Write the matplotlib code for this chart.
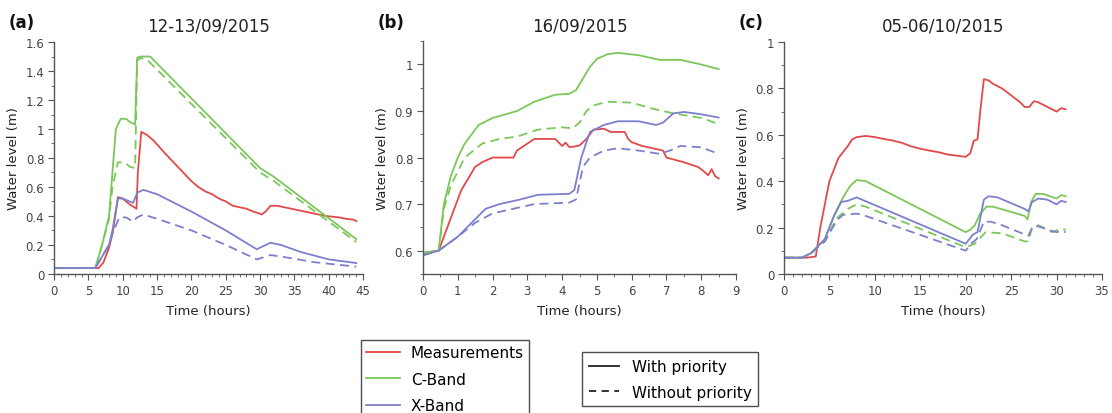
# coding: utf-8
import matplotlib.pyplot as plt
from matplotlib.ticker import MultipleLocator, FuncFormatter
from matplotlib.lines import Line2D

plt.rcParams['font.family'] = ['DejaVu Sans']

RED = '#e2494b'
GREEN = '#7cc75a'
BLUE = '#7c80cc'

# ---- (a) 12-13/09/2015
a_meas_t = [0, 6.5, 7.2, 8.0, 8.6, 9.3, 10.0, 11.0, 12.0, 12.2, 12.7, 13.5, 14.5, 16, 17, 18, 19, 20, 21, 22, 23, 24, 25, 26, 27, 28, 29, 29.7, 30.2, 30.8, 31.5, 32.5, 33.5, 34.5, 35.5, 36.5, 37.5, 38.5, 39.5, 40.5, 41.5, 42.5, 43.5, 44]
a_meas_v = [0.04, 0.04, 0.08, 0.18, 0.3, 0.53, 0.52, 0.48, 0.45, 0.7, 0.98, 0.96, 0.92, 0.84, 0.79, 0.74, 0.69, 0.64, 0.6, 0.57, 0.55, 0.52, 0.5, 0.47, 0.46, 0.45, 0.43, 0.42, 0.41, 0.43, 0.47, 0.47, 0.46, 0.45, 0.44, 0.43, 0.42, 0.41, 0.4, 0.395, 0.39, 0.38, 0.375, 0.365]
a_cs_t = [0, 6, 7, 8, 8.5, 9, 9.7, 10.5, 11, 11.8, 12.1, 12.5, 14, 30, 32, 44]
a_cs_v = [0.04, 0.04, 0.2, 0.4, 0.7, 1.0, 1.07, 1.07, 1.05, 1.03, 1.49, 1.5, 1.5, 0.73, 0.67, 0.24]
a_cd_t = [0, 6, 7, 8, 8.5, 9.3, 10.3, 11, 11.8, 12.1, 12.5, 13.5, 30, 32, 44]
a_cd_v = [0.04, 0.04, 0.2, 0.38, 0.6, 0.77, 0.77, 0.74, 0.73, 1.47, 1.49, 1.48, 0.7, 0.64, 0.22]
a_xs_t = [0, 6, 7, 8, 8.5, 9.3, 10, 11.5, 12.1, 13, 15, 20, 25, 29.5, 31.5, 33, 36, 40, 44]
a_xs_v = [0.04, 0.04, 0.12, 0.2, 0.3, 0.52, 0.52, 0.49, 0.56, 0.58, 0.55, 0.43, 0.3, 0.17, 0.215, 0.2, 0.15, 0.1, 0.075]
a_xd_t = [0, 6, 7, 8, 8.7, 9.5, 10.5, 11.5, 12.1, 13, 15, 20, 25, 29.5, 31.5, 33, 38, 44]
a_xd_v = [0.04, 0.04, 0.12, 0.2, 0.3, 0.39, 0.39, 0.36, 0.39, 0.41, 0.38, 0.3, 0.2, 0.1, 0.13, 0.12, 0.08, 0.05]

# ---- (b) 16/09/2015
b_meas_t = [0, 0.45, 0.7, 0.9, 1.1, 1.3, 1.5, 1.7, 2.0, 2.6, 2.7, 2.8, 3.0, 3.2, 3.8, 4.0, 4.1, 4.2, 4.3, 4.5, 4.7, 4.9, 5.2, 5.4, 5.5, 5.8, 5.9, 6.0, 6.3, 6.6, 6.9, 7.0, 7.5, 7.9, 8.0, 8.2, 8.3, 8.4, 8.5]
b_meas_v = [0.595, 0.6, 0.65, 0.69, 0.73, 0.755, 0.78, 0.79, 0.8, 0.8, 0.815, 0.82, 0.83, 0.84, 0.84, 0.825, 0.832, 0.823, 0.823, 0.826, 0.84, 0.86, 0.862, 0.855, 0.855, 0.855, 0.84, 0.833, 0.825, 0.82, 0.815, 0.80, 0.79, 0.78, 0.775, 0.762, 0.775, 0.76, 0.755]
b_cs_t = [0, 0.45, 0.6, 0.8, 1.0, 1.2, 1.6, 2.0, 2.7, 3.2, 3.8, 4.2, 4.4, 4.6, 4.8, 5.0, 5.3, 5.6, 6.2, 6.8, 7.4, 8.0, 8.5]
b_cs_v = [0.595, 0.6, 0.7, 0.76, 0.8, 0.83, 0.87, 0.885, 0.90, 0.92, 0.935, 0.937, 0.945, 0.97, 0.995, 1.012, 1.022, 1.025, 1.02, 1.01, 1.01, 1.0, 0.99]
b_cd_t = [0, 0.45, 0.6, 0.8, 1.0, 1.2, 1.7, 2.2, 2.7, 3.3, 4.0, 4.3, 4.5, 4.7, 4.9, 5.3, 6.0, 6.6, 7.2, 8.0, 8.5]
b_cd_v = [0.595, 0.6, 0.69, 0.74, 0.77, 0.8, 0.83, 0.84, 0.845, 0.86, 0.865, 0.863, 0.875, 0.9, 0.912, 0.92, 0.918, 0.905, 0.895, 0.885, 0.872]
b_xs_t = [0, 0.45, 1.0, 1.4, 1.8, 2.2, 2.8, 3.3, 4.2, 4.35, 4.55, 4.8, 5.2, 5.6, 6.2, 6.7, 6.9, 7.2, 7.5, 8.0, 8.5]
b_xs_v = [0.59, 0.6, 0.63, 0.66, 0.69, 0.70, 0.71, 0.72, 0.722, 0.73, 0.80, 0.855, 0.87, 0.878, 0.878, 0.87, 0.875, 0.895, 0.898, 0.893, 0.886]
b_xd_t = [0, 0.45, 1.0, 1.5, 2.0, 2.6, 3.2, 4.2, 4.4, 4.6, 4.8, 5.2, 5.6, 6.2, 6.8, 7.1, 7.4, 8.0, 8.5]
b_xd_v = [0.59, 0.6, 0.63, 0.66, 0.68, 0.69, 0.70, 0.703, 0.71, 0.78, 0.80, 0.815, 0.82, 0.815, 0.808, 0.815, 0.825, 0.822, 0.808]

# ---- (c) 05-06/10/2015
c_meas_t = [0, 2.5, 3.5, 4.0, 5.0, 6.0, 7.0, 7.5, 8.0, 9, 10, 11, 12, 13, 14, 15, 16, 17, 18, 19, 20, 20.5, 20.9, 21.3, 21.6, 22.0, 22.5, 23, 24, 25, 26, 26.5, 27, 27.5, 28, 29, 30, 30.5, 31]
c_meas_v = [0.07, 0.07, 0.075, 0.2, 0.4, 0.5, 0.55, 0.58, 0.59, 0.595, 0.59, 0.582, 0.575, 0.565, 0.55, 0.54, 0.532, 0.525, 0.515, 0.51, 0.505, 0.52, 0.575, 0.58, 0.7, 0.84, 0.835, 0.82, 0.8, 0.77, 0.74, 0.72, 0.72, 0.745, 0.74, 0.72, 0.70, 0.715, 0.71]
c_cs_t = [0, 2, 3, 4.5, 5.5, 6.5, 7.3, 8, 9, 20, 20.5, 21, 21.6, 22.3, 23, 26.5, 26.8, 27.2, 27.7, 28.5, 30, 30.5, 31]
c_cs_v = [0.07, 0.07, 0.09, 0.15, 0.25, 0.33, 0.38, 0.405, 0.40, 0.18, 0.19, 0.21, 0.26, 0.29, 0.29, 0.25, 0.235, 0.31, 0.345, 0.345, 0.325, 0.34, 0.335]
c_cd_t = [0, 2, 3, 4.5, 5.8, 7, 8, 9, 20, 21, 22.2, 24, 26.5, 26.9, 27.3, 28, 29.5, 30.5, 31]
c_cd_v = [0.07, 0.07, 0.09, 0.14, 0.24, 0.28, 0.30, 0.29, 0.115, 0.13, 0.18, 0.175, 0.14, 0.14, 0.2, 0.21, 0.18, 0.195, 0.19]
c_xs_t = [0, 2, 3, 4.5, 5.5, 6.3, 7, 8, 20, 20.8, 21.3, 22, 22.5, 23.5, 26.5, 26.9, 27.3, 28, 29, 30, 30.5, 31]
c_xs_v = [0.07, 0.07, 0.09, 0.15, 0.25, 0.31, 0.315, 0.33, 0.13, 0.17, 0.18, 0.32, 0.335, 0.33, 0.28, 0.27, 0.31, 0.325, 0.32, 0.30, 0.315, 0.31]
c_xd_t = [0, 2, 3, 4.5, 5.8, 6.5, 8, 9, 20, 20.6, 21.2, 22, 22.8, 24, 26.5, 26.9, 27.4, 28, 29.5, 30, 30.5, 31]
c_xd_v = [0.07, 0.07, 0.09, 0.14, 0.23, 0.255, 0.26, 0.25, 0.1, 0.13, 0.15, 0.225, 0.225, 0.21, 0.17, 0.165, 0.205, 0.205, 0.185, 0.18, 0.185, 0.18]

panels = [
	("(a)", "12-13/09/2015", [0.0486, 0.336, 0.278, 0.560], (0, 45), 5, 1, (0, 1.6), 0.2, 0.1,
	 [(a_meas_t, a_meas_v, RED, '-'), (a_cd_t, a_cd_v, GREEN, '--'), (a_xd_t, a_xd_v, BLUE, '--'),
	  (a_cs_t, a_cs_v, GREEN, '-'), (a_xs_t, a_xs_v, BLUE, '-')]),
	("(b)", "16/09/2015", [0.3804, 0.336, 0.2815, 0.562], (0, 9), 1, 0.5, (0.55, 1.05), 0.1, 0.05,
	 [(b_meas_t, b_meas_v, RED, '-'), (b_cd_t, b_cd_v, GREEN, '--'), (b_xd_t, b_xd_v, BLUE, '--'),
	  (b_cs_t, b_cs_v, GREEN, '-'), (b_xs_t, b_xs_v, BLUE, '-')]),
	("(c)", "05-06/10/2015", [0.705, 0.336, 0.286, 0.560], (0, 35), 5, 1, (0, 1), 0.2, 0.1,
	 [(c_meas_t, c_meas_v, RED, '-'), (c_cd_t, c_cd_v, GREEN, '--'), (c_xd_t, c_xd_v, BLUE, '--'),
	  (c_cs_t, c_cs_v, GREEN, '-'), (c_xs_t, c_xs_v, BLUE, '-')]),
]

fmt = FuncFormatter(lambda v, p: ('%.1f' % v).rstrip('0').rstrip('.') if abs(v) > 1e-9 else '0')

fig = plt.figure(figsize=(11.12, 4.14), dpi=100)
for tag, title, rect, xlim, xmaj, xmin, ylim, ymaj, ymin, series in panels:
	ax = fig.add_axes(rect)
	for t, v, c, ls in series:
		ax.plot(t, v, color=c, ls=ls, lw=1.3, dashes=(5, 3) if ls == '--' else (None, None))
	ax.set_xlim(*xlim)
	ax.set_ylim(*ylim)
	ax.xaxis.set_major_locator(MultipleLocator(xmaj))
	ax.xaxis.set_minor_locator(MultipleLocator(xmin))
	ax.yaxis.set_major_locator(MultipleLocator(ymaj))
	ax.yaxis.set_minor_locator(MultipleLocator(ymin))
	ax.yaxis.set_major_formatter(fmt)
	ax.xaxis.set_major_formatter(fmt)
	for s in ['top', 'right']:
		ax.spines[s].set_visible(False)
	for s in ['left', 'bottom']:
		ax.spines[s].set_color('#555555')
		ax.spines[s].set_linewidth(1.0)
	ax.tick_params(which='major', length=4, color='#555555', labelsize=8.5, labelcolor='#444444', pad=3)
	ax.tick_params(which='minor', length=2, color='#555555')
	ax.set_xlabel("Time (hours)", fontsize=9.5, color='#222222', labelpad=5)
	ax.set_ylabel("Water level (m)", fontsize=9.5, color='#222222', labelpad=4)
	ax.set_title(title, fontsize=12, color='#222222', pad=8)
	fig.text(rect[0] - 0.041, 0.932, tag, fontsize=12, fontweight='bold', color='#111111')

h1 = [Line2D([], [], color=RED, lw=1.3), Line2D([], [], color=GREEN, lw=1.3), Line2D([], [], color=BLUE, lw=1.3)]
leg1 = fig.legend(h1, ["Measurements", "C-Band", "X-Band"], loc='upper left',
	bbox_to_anchor=(361 / 1112, 1 - 341 / 414), borderaxespad=0, fontsize=11, frameon=True, fancybox=False,
	edgecolor='#222222', handlelength=2.2, borderpad=0.35, labelspacing=0.75, handletextpad=0.7)
leg1.get_frame().set_linewidth(1.0)
h2 = [Line2D([], [], color='#222222', lw=1.3), Line2D([], [], color='#222222', lw=1.3, ls='--', dashes=(4, 3))]
leg2 = fig.legend(h2, ["With priority", "Without priority"], loc='upper left',
	bbox_to_anchor=(582 / 1112, 1 - 353 / 414), borderaxespad=0, fontsize=11, frameon=True, fancybox=False,
	edgecolor='#222222', handlelength=2.0, borderpad=0.45, labelspacing=0.7, handletextpad=0.8)
leg2.get_frame().set_linewidth(1.0)

fig.savefig("out.png", dpi=100)
